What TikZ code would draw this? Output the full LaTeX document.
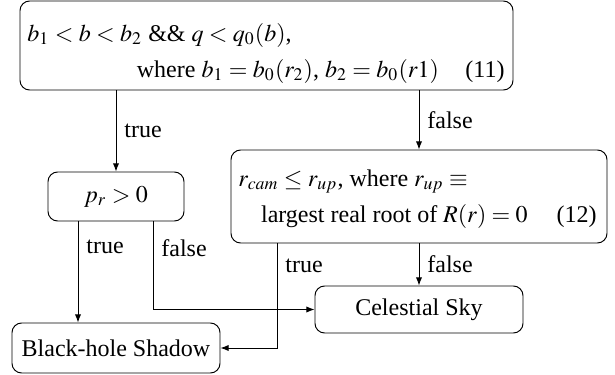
\documentclass[tikz,border=0pt]{standalone}
\usepackage{mathptmx}
\usepackage{fontspec}
\setmainfont{Liberation Serif}
\usetikzlibrary{arrows.meta}
\def\pxu{0.416667pt}
\tikzset{
  box/.style={draw, rounded corners=4pt, inner sep=0pt, align=center},
  txt/.style={inner sep=0pt},
  arr/.style={-{Latex[length=3.4pt,width=2.6pt]}},
  lbl/.style={anchor=west, inner sep=3.3pt},
}
\begin{document}
\begin{tikzpicture}[x=\pxu,y=-\pxu]
\useasboundingbox (0,0) rectangle (615,375);
\node[box, minimum width=493*\pxu, minimum height=89*\pxu] (c1) at (266.5,45.5) {};
\node[txt, anchor=base west] (c1a) at (27,41) {$b_1<b<b_2$ \&\& $q<q_0(b)$,};
\node[txt, anchor=base east] (c1b) at (505,77) {where $b_1=b_0(r_2)$, $b_2=b_0(r1)$\hspace{11pt}(11)};
\node[box, minimum width=136*\pxu, minimum height=49*\pxu] (c2) at (116,196.5) {$p_r>0$};
\node[box, minimum width=376*\pxu, minimum height=93*\pxu] (c3) at (419,196.5) {};
\node[txt, anchor=base west] (c3a) at (238,186) {$r_{cam}\le r_{up}$, where $r_{up}\equiv$};
\node[txt, anchor=base east] (c3b) at (597,222) {largest real root of $R(r)=0$\hspace{12pt}(12)};
\node[box, minimum width=208*\pxu, minimum height=47*\pxu] (c4) at (419,309.5) {Celestial Sky};
\node[box, minimum width=208*\pxu, minimum height=50*\pxu] (c5) at (116,348) {Black-hole Shadow};
\draw[arr] (c1.south -| c2.north) -- node[lbl]{true} (c2.north);
\draw[arr] (c1.south -| c3.north) -- node[lbl]{false} (c3.north);
\coordinate (t2) at ([xshift=-38*\pxu]c2.south);
\coordinate (f2) at ([xshift=37*\pxu]c2.south);
\coordinate (t3) at ([xshift=-142*\pxu]c3.south);
\draw[arr] (t2) -- node[lbl, pos=0.25]{true} (t2 |- c5.north);
\draw[arr] (f2) |- node[lbl, pos=0.15]{false} (c4.west);
\draw[arr] (t3) |- node[lbl, pos=0.106]{true} (c5.east);
\draw[arr] (c3.south) -- node[lbl]{false} (c4.north);
\end{tikzpicture}
\end{document}
